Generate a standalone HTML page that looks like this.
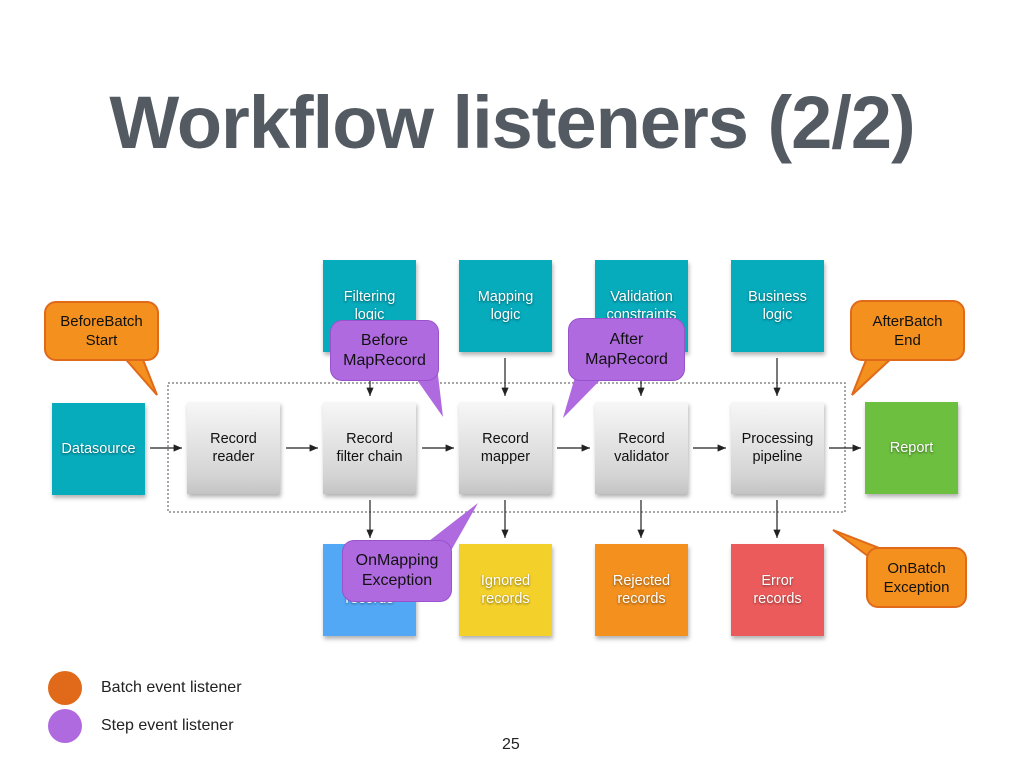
<!DOCTYPE html>
<html><head><style>
body{margin:0;width:1024px;height:768px;background:#fff;position:relative;font-family:"Liberation Sans",sans-serif;overflow:hidden}
.t{position:absolute;left:0;width:1024px;top:80px;text-align:center;font-size:74px;font-weight:bold;color:#535a61;letter-spacing:-1px}
.b{position:absolute;width:93px;height:92px;display:flex;align-items:center;justify-content:center;text-align:center;font-size:14.5px;line-height:18px;box-shadow:1px 3px 4px rgba(0,0,0,.3)}
.c{background:#06abbc;color:#fff;text-shadow:0 1px 2px rgba(0,0,0,.5)}
.g{background:linear-gradient(#f7f7f7,#d4d4d4 80%,#c4c4c4);color:#111}
.w{color:#fff;text-shadow:0 1px 2px rgba(0,0,0,.5)}
.co{position:absolute;display:flex;align-items:center;justify-content:center;text-align:center;font-size:15px;line-height:19px;border-radius:12px;color:#111}
.o{background:#f3901e;border:2px solid #e06a1a}
.p{background:#b06ae0;border:1px solid #9a52cc;font-size:16px;line-height:20px}
.l{position:absolute;font-size:16px;color:#222}
</style></head><body>
<div class="t">Workflow listeners (2/2)</div>
<svg style="position:absolute;left:0;top:0" width="1024" height="768">
<defs><marker id="a" markerWidth="8" markerHeight="8" refX="7" refY="4" orient="auto"><path d="M0,1 L7,4 L0,7z" fill="#222"/></marker></defs>
<rect x="168" y="383" width="677" height="129" fill="none" stroke="#888" stroke-dasharray="2,2" stroke-width="1.5"/>
<g stroke="#222" stroke-width="1.2" marker-end="url(#a)">
<line x1="150" y1="448" x2="182" y2="448"/><line x1="286" y1="448" x2="318" y2="448"/><line x1="422" y1="448" x2="454" y2="448"/><line x1="557" y1="448" x2="590" y2="448"/><line x1="693" y1="448" x2="726" y2="448"/><line x1="829" y1="448" x2="861" y2="448"/>
<line x1="370" y1="358" x2="370" y2="396"/><line x1="505" y1="358" x2="505" y2="396"/><line x1="641" y1="358" x2="641" y2="396"/><line x1="777" y1="358" x2="777" y2="396"/>
<line x1="370" y1="500" x2="370" y2="538"/><line x1="505" y1="500" x2="505" y2="538"/><line x1="641" y1="500" x2="641" y2="538"/><line x1="777" y1="500" x2="777" y2="538"/>
</g>
</svg>
<div class="b c" style="left:323px;top:260px">Filtering<br>logic</div>
<div class="b c" style="left:459px;top:260px">Mapping<br>logic</div>
<div class="b c" style="left:595px;top:260px">Validation<br>constraints</div>
<div class="b c" style="left:731px;top:260px">Business<br>logic</div>
<div class="b c" style="left:52px;top:403px">Datasource</div>
<div class="b g" style="left:187px;top:402px">Record<br>reader</div>
<div class="b g" style="left:323px;top:402px">Record<br>filter chain</div>
<div class="b g" style="left:459px;top:402px">Record<br>mapper</div>
<div class="b g" style="left:595px;top:402px">Record<br>validator</div>
<div class="b g" style="left:731px;top:402px">Processing<br>pipeline</div>
<div class="b w" style="left:865px;top:402px;background:#6cbf3f">Report</div>
<div class="b w" style="left:323px;top:544px;background:#52a8f5">Filtered<br>records</div>
<div class="b w" style="left:459px;top:544px;background:#f4d02a">Ignored<br>records</div>
<div class="b w" style="left:595px;top:544px;background:#f3901e">Rejected<br>records</div>
<div class="b w" style="left:731px;top:544px;background:#ec5b5b">Error<br>records</div>
<svg style="position:absolute;left:0;top:0" width="1024" height="768">
<path d="M140,352 L157,395 L122,355z" fill="#f3901e" stroke="#e06a1a" stroke-width="2"/>
<path d="M870,350 L852,395 L895,355z" fill="#f3901e" stroke="#e06a1a" stroke-width="2"/>
<path d="M905,558 L833,530 L880,565z" fill="#f3901e" stroke="#e06a1a" stroke-width="2"/>
<path d="M410,370 L443,417 L435,350z" fill="#b06ae0"/>
<path d="M580,360 L563,418 L610,370z" fill="#b06ae0"/>
<path d="M420,548 L478,503 L440,570z" fill="#b06ae0"/>
</svg>
<div class="co o" style="left:44px;top:301px;width:111px;height:56px">BeforeBatch<br>Start</div>
<div class="co o" style="left:850px;top:300px;width:111px;height:57px">AfterBatch<br>End</div>
<div class="co o" style="left:866px;top:547px;width:97px;height:57px">OnBatch<br>Exception</div>
<div class="co p" style="left:330px;top:320px;width:107px;height:59px">Before<br>MapRecord</div>
<div class="co p" style="left:568px;top:318px;width:115px;height:61px">After<br>MapRecord</div>
<div class="co p" style="left:342px;top:540px;width:108px;height:60px">OnMapping<br>Exception</div>
<div style="position:absolute;left:48px;top:671px;width:34px;height:34px;border-radius:50%;background:#e06a1a"></div>
<div style="position:absolute;left:48px;top:709px;width:34px;height:34px;border-radius:50%;background:#b06ae0"></div>
<div class="l" style="left:101px;top:679px">Batch event listener</div>
<div class="l" style="left:101px;top:717px">Step event listener</div>
<div class="l" style="left:502px;top:736px">25</div>
</body></html>
